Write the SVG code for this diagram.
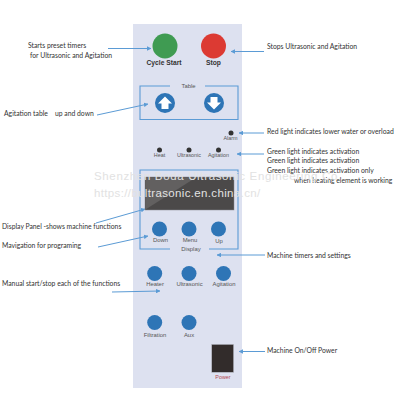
<svg xmlns="http://www.w3.org/2000/svg" width="400" height="400" viewBox="0 0 400 400">
<style>
.n{font-family:Lato,"Liberation Sans",sans-serif;font-size:6.8px;fill:#333}
.l{font-family:"Liberation Sans",Arial,sans-serif;font-size:5.4px;fill:#555;text-anchor:middle}
.m{font-size:5.9px}
.t{font-family:"Liberation Sans",sans-serif;font-size:6.7px;font-weight:700;fill:#333;text-anchor:middle}
.k{fill:#2e75b6}
.b{fill:none;stroke:#5b9bd5;stroke-width:1.1}
.a{fill:none;stroke:#5b9bd5;stroke-width:1;marker-end:url(#h)}
.d{fill:#333}
.w{font-family:"Liberation Sans",Arial,sans-serif;font-size:11.5px;fill:#e2e2e2}
</style>
<defs>
<marker id="h" viewBox="0 0 6 6" refX="5.5" refY="3" markerWidth="4.5" markerHeight="4.5" orient="auto"><path d="M0 0L6 3L0 6z" fill="#5b9bd5"/></marker>
</defs>
<rect id="panel" x="133" y="24" width="109" height="364" fill="#dde1f0"/>
<g id="connectors">
<path class="a" d="M108 48.500H151"/>
<path class="a" d="M97 115L148 104"/>
<path class="a" d="M264 51.500H231"/>
<path class="a" d="M264 133H239"/>
<path class="a" d="M264 154H237"/>
<path class="a" d="M96 223L145 209"/>
<path class="a" d="M98 247L148 236"/>
<path class="a" d="M265 255H217"/>
<path class="a" d="M112 292L160 291"/>
<path class="a" d="M265 351.500H239"/>
<path class="b" d="M170 86H140V119.500H238V86H205"/>
<path class="b" d="M170 249H140V170H238V249H209"/>
</g>
<g id="cycle-start"><circle cx="165" cy="46" r="12.500" fill="#3f9b52"/><text class="t" x="164" y="65">Cycle Start</text></g>
<g id="stop"><circle cx="213.500" cy="46" r="12.500" fill="#dc3a33"/><text class="t" x="213.500" y="65">Stop</text></g>
<g id="table-label"><text class="l m" x="188.500" y="88">Table</text></g>
<g id="table-up"><circle class="k" cx="165" cy="103" r="10"/><path d="M165 96.500L172 103.500H168.500V109H161.500V103.500H158z" fill="#fff"/></g>
<g id="table-down"><circle class="k" cx="214" cy="103" r="10"/><path d="M214 109.500L207 102.500H210.500V97H217.500V102.500H221z" fill="#fff"/></g>
<g id="alarm"><circle class="d" cx="231" cy="133" r="2.500"/><text class="l" x="230.500" y="140">Alarm</text></g>
<g id="heat"><circle class="d" cx="159.500" cy="150" r="2.500"/><text class="l" x="159.500" y="157">Heat</text></g>
<g id="ultrasonic-light"><circle class="d" cx="189" cy="150" r="2.500"/><text class="l" x="189" y="157">Ultrasonic</text></g>
<g id="agitation-light"><circle class="d" cx="218.500" cy="150" r="2.500"/><text class="l" x="218.500" y="157">Agitation</text></g>
<g id="display-screen"><rect x="145" y="177" width="89" height="33" fill="#4b4949" stroke="#8a8a90" stroke-width=".5"/><path d="M145.500 209.500V177.500H196z" fill="#626060"/></g>
<g id="display-label"><text class="l m" x="191" y="251">Display</text></g>
<g id="btn-down"><circle class="k" cx="159.500" cy="229" r="7.500"/><text class="l m" x="160.500" y="242">Down</text></g>
<g id="btn-menu"><circle class="k" cx="189" cy="229" r="7.500"/><text class="l m" x="190" y="242">Menu</text></g>
<g id="btn-up"><circle class="k" cx="218.500" cy="229" r="7.500"/><text class="l m" x="219" y="243">Up</text></g>
<g id="btn-heater"><circle class="k" cx="154.700" cy="273.500" r="7.500"/><text class="l m" x="155" y="286">Heater</text></g>
<g id="btn-ultrasonic"><circle class="k" cx="189" cy="273.500" r="7.500"/><text class="l m" x="189.500" y="286">Ultrasonic</text></g>
<g id="btn-agitation"><circle class="k" cx="223.500" cy="273.500" r="7.500"/><text class="l m" x="224" y="286">Agitation</text></g>
<g id="btn-filtration"><circle class="k" cx="154.700" cy="322.500" r="7.500"/><text class="l m" x="155" y="337">Filtration</text></g>
<g id="btn-aux"><circle class="k" cx="189" cy="322.500" r="7.500"/><text class="l m" x="189" y="337">Aux</text></g>
<g id="power"><rect x="211.700" y="344.300" width="22" height="28" fill="#322c2b" stroke="#b9bcc6" stroke-width=".6"/><text class="l" x="223" y="378.500" style="fill:#b5484f">Power</text></g>
<g id="notes">
<text class="n" x="28" y="48">Starts preset timers</text>
<text class="n" x="30" y="58">for Ultrasonic and Agitation</text>
<text class="n" x="4" y="115.500">Agitation table</text>
<text class="n" x="55" y="115.500">up and down</text>
<text class="n" x="2" y="229">Display Panel -shows machine functions</text>
<text class="n" x="2" y="248">Mavigation for programing</text>
<text class="n" x="2" y="286">Manual start/stop each of the functions</text>
<text class="n" x="267" y="48.500">Stops Ultrasonic and Agitation</text>
<text class="n" x="267" y="134">Red light indicates lower water or overload</text>
<text class="n" x="267" y="153.500">Green light indicates activation</text>
<text class="n" x="267" y="163">Green light indicates activation</text>
<text class="n" x="267" y="172.500">Green light indicates activation only</text>
<text class="n" x="294" y="182.500">when heating element is working</text>
<text class="n" x="267" y="257.500">Machine timers and settings</text>
<text class="n" x="267" y="353">Machine On/Off Power</text>
</g>
<g id="watermark">
<text class="w" x="94" y="180" style="letter-spacing:.65px">Shenzhen Boda Ultrasonic Engineering Co</text>
<text class="w" x="94" y="197" style="letter-spacing:.35px">https://bultrasonic.en.china.cn/</text>
</g>
</svg>
